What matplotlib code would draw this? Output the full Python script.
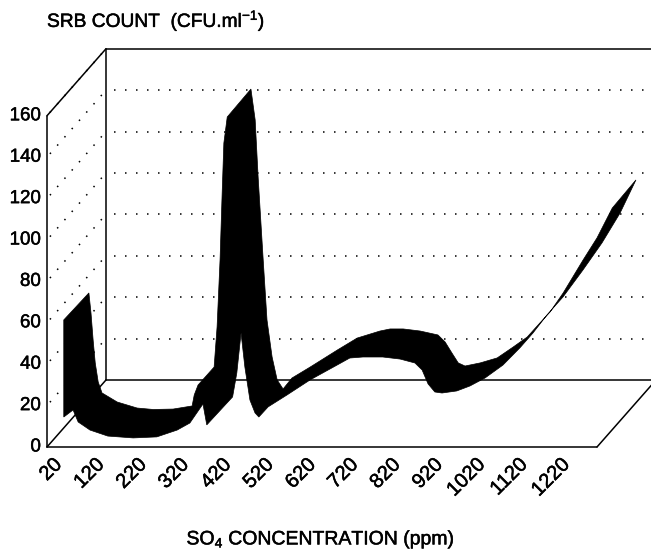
import numpy as np
from matplotlib import pyplot as plt
from matplotlib import patheffects

plt.rcParams['font.family'] = ['Liberation Sans', 'DejaVu Sans']
plt.rcParams['mathtext.default'] = 'regular'

conc_ticks = list(range(20, 1221, 100))
count_ticks = list(range(0, 161, 20))

# ribbon edges: front edge
front_conc = [24, 24, 46, 58, 86, 128, 188, 244, 292, 322, 353, 362, 423, 433, 443, 452, 464, 476,
              485, 507, 552, 606, 670, 700, 731, 778, 819, 854, 871, 885, 901, 918, 953, 984,
              1020, 1062, 1102, 1133, 1166, 1204, 1251, 1296, 1339]
front_count = [57.5, 10.6, 14, 8.2, 4.3, 1.4, 0.5, 1, 4.3, 7.7, 16.9, 6.8, 20.3, 31.9, 51.2, 34.8,
               18.8, 12.6, 10.6, 15.5, 21.3, 28.5, 35.7, 39.1, 39.6, 39.6, 38.6, 36.7, 33.3, 26.6,
               22.7, 22.2, 23.2, 25.6, 29.5, 35.7, 44, 51.2, 59.9, 68.6, 81.6, 94.7, 109.2]
# back edge
back_conc = [22, 27, 32, 37, 44, 53, 89, 136, 174, 221, 266, 271, 280, 318, 325, 332, 337, 341, 349,
             405, 415, 422, 434, 443, 455, 467, 481, 502, 545, 609, 656, 710, 734, 765, 805, 847,
             864, 880, 895, 911, 947, 987, 1025, 1058, 1088, 1112, 1143, 1190, 1223, 1259, 1315]
back_count = [56.3, 46.6, 33.6, 22.5, 13.3, 8, 3.6, 0.7, 0, 0.2, 1.7, 7, 11.8, 20.5, 39.9, 72.2,
              104.6, 128.7, 141.3, 154.8, 139.9, 112.3, 72.2, 43.2, 25.4, 14.3, 9.9, 15.2, 20.5,
              28.7, 34.5, 37.9, 38.9, 38.9, 37.9, 36, 32.6, 27.3, 22.5, 21, 22.5, 24.9, 30.2, 35,
              41.8, 47.1, 56.3, 72.2, 82.9, 97.3, 110.9]

FRONT_DEPTH = 0.12
BACK_DEPTH = 0.56
CONC_MIN, CONC_MAX = 1, 1301
COUNT_MAX = 160


# oblique projection to figure pixels
def project(conc, count, depth):
    conc, count = np.asarray(conc, float), np.asarray(count, float)
    return 55 + (conc - 20) * 0.4231 + 59 * depth, 447 - 2.07 * count - 67 * depth


fig = plt.figure(figsize=(6.51, 5.53), dpi=100)
ax = fig.add_axes([0, 0, 1, 1])
ax.set_xlim(0, 651)
ax.set_ylim(553, 0)
ax.axis('off')

# frame
frame = dict(color='black', lw=1.1, solid_capstyle='round')
for c, v, d in [
    ([CONC_MIN, CONC_MIN], [0, COUNT_MAX], [0, 0]),
    ([CONC_MIN, CONC_MIN], [COUNT_MAX, COUNT_MAX], [0, 1]),
    ([CONC_MIN, CONC_MIN], [0, COUNT_MAX], [1, 1]),
    ([CONC_MIN, CONC_MAX + 20], [COUNT_MAX, COUNT_MAX], [1, 1]),
    ([CONC_MIN, CONC_MAX], [0, 0], [0, 0]),
    ([CONC_MIN, CONC_MIN], [0, 0], [0, 1]),
    ([CONC_MIN, CONC_MAX + 20], [0, 0], [1, 1]),
    ([CONC_MAX, CONC_MAX], [0, 0], [0, 1]),
]:
    x, y = project(c, v, np.array(d))
    ax.plot(x, y, **frame)

# dotted grid on the side and back walls
grid = dict(color='black', lw=1.1, linestyle=(0, (1, 6.2)), dash_capstyle='butt')
for v in count_ticks[1:]:
    x, y = project([CONC_MIN, CONC_MIN], [v, v], np.array([0.05, 0.95]))
    ax.plot(x, y, **grid)
    if v < COUNT_MAX:
        x, y = project([CONC_MIN + 20, CONC_MAX + 20], [v, v], np.array([1, 1]))
        ax.plot(x, y, **grid)

# ribbon
fx, fy = project(front_conc, front_count, FRONT_DEPTH)
bx, by = project(back_conc, back_count, BACK_DEPTH)
ax.fill(np.r_[fx, bx[::-1]], np.r_[fy, by[::-1]], color='black', lw=0.5, zorder=3)

# tick labels, stroked a little for the heavy print look
heavy = [patheffects.withStroke(linewidth=0.35, foreground='black')]
for v in count_ticks:
    x, y = project(CONC_MIN, v, 0)
    ax.text(x - 6, y, str(v), ha='right', va='center', fontsize=13.5, path_effects=heavy)
for c in conc_ticks:
    x, y = project(c, 0, 0)
    ax.text(x - 3, y + 8, str(c), ha='right', va='top', rotation=45,
            rotation_mode='anchor', fontsize=14.5, path_effects=heavy)

ax.text(47, 21, 'SRB COUNT  (CFU.ml$^{-1}$)', ha='left', va='center', fontsize=13.8, path_effects=heavy)
ax.text(321, 540, 'SO$_4$ CONCENTRATION (ppm)', ha='center', va='center', fontsize=14, path_effects=heavy)

fig.savefig('out.png', dpi=100)
